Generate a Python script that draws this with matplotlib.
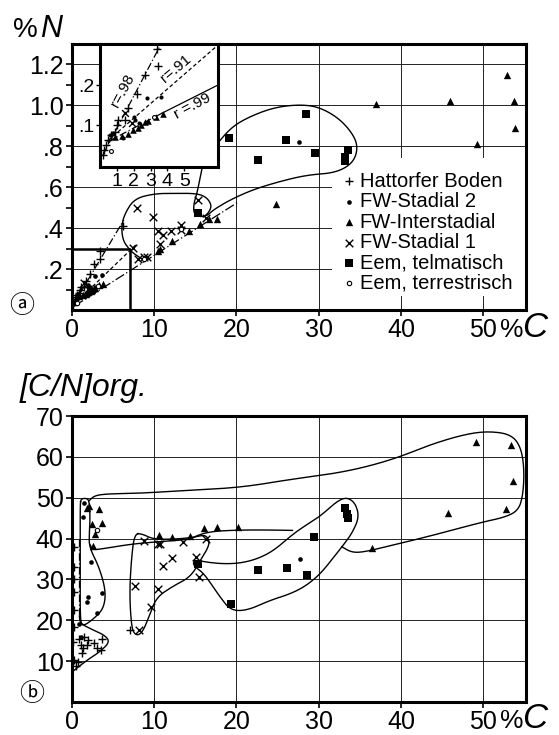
import numpy as np
import matplotlib
matplotlib.use("Agg")
from matplotlib import pyplot as plt
from matplotlib.patches import Rectangle

plt.rcParams['font.family'] = ['Liberation Sans', 'DejaVu Sans']

# ---------------- data, panel a (%C vs %N) ----------------
hb_c = [0.17, 0.23, 0.37, 0.47, 0.63, 0.86, 1.02, 1.06, 1.46, 1.66, 2.19, 2.65, 3.44, 3.40, 6.2]
hb_n = [0.025, 0.037, 0.050, 0.062, 0.075, 0.082, 0.100, 0.112, 0.112, 0.142, 0.177, 0.225, 0.248, 0.290, 0.41]

st2_c = [0.60, 0.76, 1.36, 2.00, 2.10, 2.30, 2.79, 3.64, 27.6]
st2_n = [0.075, 0.079, 0.067, 0.121, 0.112, 0.105, 0.168, 0.169, 0.82]

inter_c = [0.9, 1.3, 1.66, 1.95, 2.25, 2.45, 2.65, 2.85, 3.34, 3.74, 10.5, 10.7, 12.2, 14.2, 15.6,
           16.6, 17.6, 24.8, 37.0, 45.9, 49.3, 52.9, 53.7, 53.8]
inter_n = [0.070, 0.072, 0.077, 0.087, 0.093, 0.100, 0.107, 0.110, 0.121, 0.1275, 0.29, 0.30, 0.336,
           0.387, 0.418, 0.445, 0.447, 0.52, 1.005, 1.02, 0.81, 1.15, 1.02, 0.89]

st1_c = [1.5, 1.9, 7.4, 7.9, 8.0, 8.7, 9.1, 9.8, 10.5, 10.7, 11.1, 12.0, 13.3, 13.3, 15.3, 16.3]
st1_n = [0.13, 0.105, 0.305, 0.50, 0.25, 0.257, 0.257, 0.455, 0.385, 0.325, 0.366, 0.387, 0.415,
         0.39, 0.54, 0.45]

eemt_c = [15.3, 19.1, 22.6, 26.0, 28.5, 29.5, 33.2, 33.5, 33.2]
eemt_n = [0.475, 0.84, 0.735, 0.83, 0.96, 0.765, 0.75, 0.78, 0.73]

eemr_c = [0.63, 3.2, 8.8, 13.2]
eemr_n = [0.035, 0.119, 0.25, 0.395]

# regression lines (main panel and inset)
line_hb_c, line_hb_n = [0.2, 6.3], [0.03, 0.44]
line_st2_c, line_st2_n = [0.3, 7.8], [0.03, 0.32]
line_int_c, line_int_n = [0.3, 20.3], [0.02, 0.53]
r98_c, r98_n = [0.17, 3.54], [0.025, 0.296]
r91_c, r91_n = [0.5, 7.0], [0.062, 0.30]
r99a_c, r99a_n = [0.45, 3.7], [0.058, 0.13]
r99b_c, r99b_n = [3.7, 7.0], [0.13, 0.20]

# enclosing curves, panel a
hull_eem_a_c = [15.8, 15.2, 14.8, 14.8, 15.6, 16.4, 17.2, 19.3, 22.1, 25.4, 28.6, 31.9, 33.9, 34.7,
                34.5, 32.7, 30.2, 27.8, 24.5, 21.3, 19.3, 17.6]
hull_eem_a_n = [0.69, 0.57, 0.52, 0.47, 0.455, 0.46, 0.49, 0.54, 0.59, 0.63, 0.66, 0.67, 0.71, 0.77,
                0.84, 0.93, 0.99, 1.005, 0.99, 0.94, 0.89, 0.81]
hull_st1_a_c = [8.5, 7.5, 6.9, 6.2, 6.0, 6.4, 7.6, 10.1, 12.4, 15.2, 16.4, 17.0, 16.6, 16.0]
hull_st1_a_n = [0.25, 0.276, 0.30, 0.34, 0.406, 0.47, 0.545, 0.569, 0.57, 0.57, 0.55, 0.51, 0.475, 0.455]

# ---------------- data, panel b (%C vs C/N) ----------------
hb_c_b = [0.28, 0.28, 0.28, 0.28, 0.28, 0.28, 0.16, 0.28, 0.7, 0.5, 0.9, 1.5, 1.9, 1.1, 1.3, 1.8, 1.2,
          2.7, 3.0, 3.7, 3.5, 7.0]
hb_cn_b = [37.9, 33.0, 30.2, 26.9, 22.4, 18.4, 14.7, 10.2, 9.8, 8.8, 15.5, 15.9, 15.1, 13.9, 13.1, 13.9,
           11.9, 14.5, 13.1, 15.5, 12.8, 17.7]

st2_c_b = [1.4, 1.3, 2.3, 2.0, 1.8, 3.7, 3.0, 0.9, 1.1, 27.7]
st2_cn_b = [48.6, 45.2, 34.2, 25.7, 24.5, 26.7, 21.8, 19.2, 15.9, 35.0]

inter_c_b = [2.1, 1.8, 3.3, 2.4, 3.7, 2.8, 2.6, 10.6, 12.2, 14.3, 16.1, 17.6, 20.2, 49.1, 53.4, 53.6,
             52.8, 45.7, 36.5]
inter_cn_b = [48.0, 47.6, 47.2, 43.6, 43.7, 41.1, 38.3, 40.8, 40.5, 40.6, 42.5, 42.9, 42.9, 63.7, 62.9,
              54.1, 47.2, 46.2, 37.7]

st1_c_b = [8.7, 10.4, 10.7, 13.5, 16.3, 15.1, 15.4, 11.1, 12.2, 10.4, 7.6, 9.6, 8.1]
st1_cn_b = [39.5, 38.7, 38.7, 39.1, 39.8, 35.4, 30.6, 33.4, 35.3, 27.7, 28.3, 23.2, 17.6]

eemt_c_b = [15.3, 19.3, 22.6, 26.1, 28.6, 29.4, 33.2, 33.4, 33.5]
eemt_cn_b = [33.8, 24.1, 32.4, 32.9, 31.0, 40.3, 47.5, 46.0, 45.0]

eemr_c_b = [3.1]
eemr_cn_b = [42.0]

# enclosing curves, panel b
hb_dash_c, hb_dash_cn = [0.9, 0.9], [40.0, 21.0]
hull_hb_b_c = [0.9, 1.0, 2.6, 4.0, 4.6, 3.4, 1.8, 0.1]
hull_hb_b_cn = [21.0, 19.2, 17.6, 16.3, 14.7, 12.3, 10.2, 7.5]
hull_st2_b_c = [1.0, 1.1, 1.7, 2.1, 2.2, 2.1, 2.1, 3.3, 4.1, 3.9, 2.9, 1.3, 1.0, 1.0, 1.0]
hull_st2_b_cn = [48.5, 49.7, 49.9, 49.3, 45.0, 41.0, 37.9, 33.0, 27.3, 23.2, 20.8, 18.4, 20.0, 30.0, 40.0]
hull_int_top_c = [2.1, 2.6, 3.5, 5.4, 8.3, 14.0, 20.5, 26.6, 31.5, 35.5, 39.6, 43.7, 47.7, 50.6, 53.4,
                  54.6, 55.0, 54.8, 54.2, 52.6, 49.8, 43.7, 38.8, 35.5, 34.0, 32.8]
hull_int_top_cn = [49.3, 50.3, 50.8, 51.0, 51.1, 51.8, 52.5, 54.5, 55.8, 57.4, 59.8, 63.1, 65.5, 66.3,
                   65.5, 62.3, 56.6, 50.1, 46.8, 45.2, 44.0, 40.7, 38.3, 36.7, 36.6, 38.0]
hull_int_low_c = [26.8, 24.0, 20.5, 17.2, 15.5, 14.3, 11.0, 7.4, 4.0, 2.5, 2.2]
hull_int_low_cn = [42.0, 42.1, 42.1, 41.8, 41.0, 39.8, 39.3, 38.7, 37.6, 37.2, 38.5]
hull_st1_b_c = [7.6, 8.6, 9.8, 12.0, 14.5, 15.8, 16.4, 16.8, 15.6, 14.4, 12.4, 10.3, 9.5, 8.7, 8.1,
                7.5, 7.2, 7.0, 7.2]
hull_st1_b_cn = [41.3, 41.1, 39.9, 39.8, 40.2, 40.8, 40.6, 38.7, 34.6, 30.6, 28.5, 25.7, 21.6, 17.6,
                 16.3, 16.8, 19.2, 26.5, 34.6]
hull_eem_b_c = [15.0, 16.4, 18.5, 20.5, 22.5, 24.5, 26.8, 28.6, 30.2, 32.3, 33.5, 34.5, 34.9, 34.1,
                33.1, 31.5, 30.2, 28.5, 26.6, 24.1, 21.3, 19.3, 18.0, 17.2, 16.0, 15.0, 14.7]
hull_eem_b_cn = [34.8, 34.2, 33.8, 34.0, 35.0, 37.0, 41.0, 43.5, 45.5, 49.3, 50.1, 48.5, 45.2, 41.5,
                 38.7, 34.6, 31.4, 28.5, 26.5, 24.9, 22.4, 22.4, 25.7, 28.1, 31.5, 33.0, 34.0]

legend_labels = ['Hattorfer Boden', 'FW-Stadial 2', 'FW-Interstadial', 'FW-Stadial 1',
                 'Eem, telmatisch', 'Eem, terrestrisch']
x_ticks = [0, 10, 20, 30, 40, 50]
n_ticks = [0.2, 0.4, 0.6, 0.8, 1.0, 1.2]
n_ticklabels = ['.2', '.4', '.6', '.8', '1.0', '1.2']
cn_ticks = [10, 20, 30, 40, 50, 60, 70]
inset_xticks = [1, 2, 3, 4, 5]
inset_yticks = [0.1, 0.2]
inset_yticklabels = ['.1', '.2']


def chaikin(xs, ys, closed=False, n=3):
    pts = np.column_stack([xs, ys]).astype(float)
    for _ in range(n):
        if closed:
            p, q = pts, np.roll(pts, -1, axis=0)
        else:
            p, q = pts[:-1], pts[1:]
        new = np.empty((2 * len(p), 2))
        new[0::2] = 0.75 * p + 0.25 * q
        new[1::2] = 0.25 * p + 0.75 * q
        if not closed:
            new = np.vstack([pts[0], new, pts[-1]])
        pts = new
    if closed:
        pts = np.vstack([pts, pts[:1]])
    return pts[:, 0], pts[:, 1]


styles = [('+', 40, dict(c='k', linewidths=1.0)),
          ('o', 11, dict(c='k', linewidths=0)),
          ('^', 28, dict(c='k', linewidths=0)),
          ('x', 30, dict(c='k', linewidths=1.0)),
          ('s', 32, dict(c='k', linewidths=0)),
          ('o', 10, dict(facecolors='white', edgecolors='k', linewidths=0.8))]


def scatter_all(ax, groups, scale=1.0):
    handles = []
    for (xs, ys), (m, s, kw) in zip(groups, styles):
        h = ax.scatter(xs, ys, marker=m, s=s * scale, zorder=4, **kw)
        handles.append(h)
    return handles


def style_axes(ax):
    for sp in ax.spines.values():
        sp.set_linewidth(2.2)
    ax.tick_params(direction='out', length=4, width=1.2, labelsize=18, pad=2)
    ax.grid(True, color='#222222', lw=0.7)
    ax.set_axisbelow(True)


fig = plt.figure(figsize=(5.59, 7.35), dpi=100)

# ---------- panel a ----------
ax1 = fig.add_axes([0.1288, 0.5782, 0.8122, 0.3619])
ax1.set_xlim(0, 55.2)
ax1.set_ylim(0, 1.3)
ax1.set_xticks(x_ticks)
ax1.set_yticks(n_ticks)
ax1.set_yticklabels(n_ticklabels)
ax1.set_yticks(np.arange(0.1, 1.3, 0.2), minor=True)
ax1.tick_params(which='minor', direction='out', length=4, width=1.2)
style_axes(ax1)

handles = scatter_all(ax1, [(hb_c, hb_n), (st2_c, st2_n), (inter_c, inter_n), (st1_c, st1_n),
                            (eemt_c, eemt_n), (eemr_c, eemr_n)])
ax1.plot(line_hb_c, line_hb_n, color='k', lw=0.9, ls=(0, (6, 2, 1, 2)), zorder=3)
ax1.plot(line_st2_c, line_st2_n, color='k', lw=0.9, ls=(0, (3, 2)), zorder=3)
ax1.plot(line_int_c, line_int_n, color='k', lw=0.9, ls=(0, (8, 2, 1, 2)), zorder=3)
ax1.plot([0, 7, 7], [0.3, 0.3, 0], color='k', lw=1.8, zorder=3)
hx, hy = chaikin(hull_eem_a_c, hull_eem_a_n)
ax1.plot(hx, hy, color='k', lw=1.0, zorder=3)
hx, hy = chaikin(hull_st1_a_c, hull_st1_a_n)
ax1.plot(hx, hy, color='k', lw=1.0, zorder=3)

# white area behind the legend
ax1.add_patch(Rectangle((0.573, 0.053), 0.427, 0.518, transform=ax1.transAxes,
                        facecolor='white', edgecolor='none', zorder=1))
leg = ax1.legend(handles, legend_labels, loc='upper left', bbox_to_anchor=(0.6, 0.52),
                 frameon=False, handlelength=0.5, handletextpad=0.25,
                 labelspacing=0.07, borderpad=0, borderaxespad=0,
                 prop={'family': ['Liberation Sans', 'DejaVu Sans'], 'size': 14.5})

# inset
ax_in = fig.add_axes([0.1789, 0.7728, 0.2111, 0.1673])
ax_in.set_xlim(0, 7.0)
ax_in.set_ylim(-0.005, 0.3025)
for sp in ax_in.spines.values():
    sp.set_linewidth(2.2)
ax_in.set_xticks(inset_xticks)
ax_in.set_yticks(inset_yticks)
ax_in.set_yticklabels(inset_yticklabels)
ax_in.tick_params(direction='out', length=3, width=1.0, labelsize=14, pad=1)
scatter_all(ax_in, [(hb_c, hb_n), (st2_c, st2_n), (inter_c, inter_n), (st1_c, st1_n),
                    (eemt_c, eemt_n), (eemr_c, eemr_n)], scale=0.8)
ax_in.plot(r98_c, r98_n, color='k', lw=0.9, ls=(0, (6, 2, 1, 2)))
ax_in.plot(r91_c, r91_n, color='k', lw=0.9, ls=(0, (3, 2)))
ax_in.plot(r99a_c, r99a_n, color='k', lw=0.9, ls=(0, (6, 2, 1, 2)))
ax_in.plot(r99b_c, r99b_n, color='k', lw=0.9)
ax_in.text(1.35, 0.185, 'r=.98', rotation=62, fontsize=11, ha='center', va='center')
ax_in.text(4.5, 0.24, 'r=.91', rotation=40, fontsize=11, ha='center', va='center')
ax_in.text(5.5, 0.148, 'r =.99', rotation=28, fontsize=11, ha='center', va='center')

# ---------- panel b ----------
ax2 = fig.add_axes([0.1288, 0.0449, 0.8122, 0.3891])
ax2.set_xlim(0, 55.2)
ax2.set_ylim(0, 70)
ax2.set_xticks(x_ticks)
ax2.set_yticks(cn_ticks)
style_axes(ax2)
scatter_all(ax2, [(hb_c_b, hb_cn_b), (st2_c_b, st2_cn_b), (inter_c_b, inter_cn_b),
                  (st1_c_b, st1_cn_b), (eemt_c_b, eemt_cn_b), (eemr_c_b, eemr_cn_b)])
ax2.plot(hb_dash_c, hb_dash_cn, color='k', lw=0.9, ls=(0, (6, 2, 1, 2)), zorder=3)
for xs, ys, closed in [(hull_hb_b_c, hull_hb_b_cn, False), (hull_st2_b_c, hull_st2_b_cn, True),
                       (hull_int_top_c, hull_int_top_cn, False),
                       (hull_int_low_c, hull_int_low_cn, False),
                       (hull_st1_b_c, hull_st1_b_cn, True), (hull_eem_b_c, hull_eem_b_cn, True)]:
    hx, hy = chaikin(xs, ys, closed)
    ax2.plot(hx, hy, color='k', lw=1.0, zorder=3)

# axis titles and panel letters
fig.text(13 / 559, 1 - 37 / 735, '%', fontsize=20, va='baseline')
fig.text(40 / 559, 1 - 37 / 735, 'N', fontsize=22, style='italic', va='baseline')
fig.text(20 / 559, 1 - 396 / 735, '[C/N]org.', fontsize=23, style='italic', va='baseline')
for yb in (337, 728):
    fig.text(500 / 559, 1 - yb / 735, '%', fontsize=19, va='baseline')
    fig.text(522 / 559, 1 - yb / 735, 'C', fontsize=25, style='italic', va='baseline')
circ_font = ['Noto Sans CJK SC', 'DejaVu Sans']
fig.text(22 / 559, 1 - 306 / 735, '\u24d0', fontsize=18, ha='center', va='center',
         family=circ_font)
fig.text(32 / 559, 1 - 694 / 735, '\u24d1', fontsize=18, ha='center', va='center',
         family=circ_font)

fig.savefig('out.png', dpi=100)
